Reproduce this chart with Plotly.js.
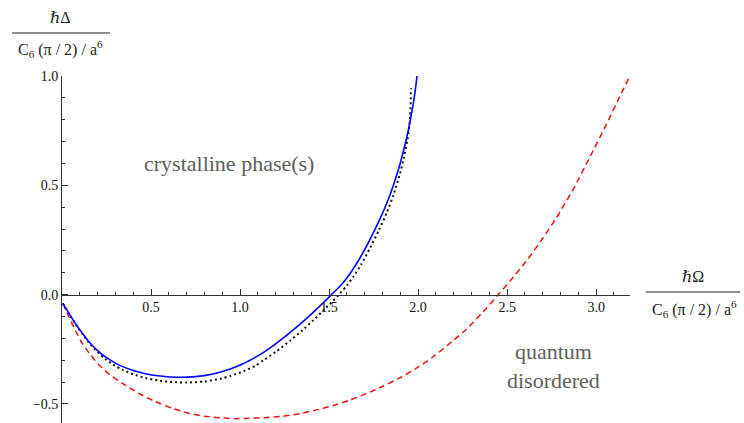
<!DOCTYPE html>
<html>
<head>
<meta charset="utf-8">
<script src="https://cdn.plot.ly/plotly-3.0.1.min.js"></script>
<style>
  html, body { margin: 0; padding: 0; background: #fff; }
  #phasePlot { width: 744px; height: 423px; }
</style>
</head>
<body>
<div id="phasePlot"></div>
<script>
// values (x = hbar*Omega, y = hbar*Delta, both in units of C6 (pi/2)/a^6)
const blueX = [0.005, 0.04, 0.076, 0.115, 0.15, 0.2, 0.244, 0.3, 0.338, 0.4, 0.468, 0.55, 0.655, 0.75, 0.842, 0.945, 1.02, 1.085, 1.132, 1.2, 1.282, 1.35, 1.412, 1.47, 1.518, 1.57, 1.618, 1.67, 1.73, 1.78, 1.824, 1.86, 1.898, 1.92, 1.945, 1.96, 1.973, 1.984, 1.994];
const blueY = [-0.04, -0.087, -0.133, -0.178, -0.214, -0.256, -0.285, -0.313, -0.328, -0.347, -0.362, -0.372, -0.378, -0.375, -0.364, -0.34, -0.315, -0.287, -0.264, -0.225, -0.173, -0.126, -0.08, -0.035, 0.004, 0.046, 0.097, 0.163, 0.253, 0.336, 0.418, 0.497, 0.596, 0.665, 0.752, 0.815, 0.875, 0.935, 1.0];

const blackX = [0.005, 0.04, 0.076, 0.115, 0.15, 0.2, 0.244, 0.3, 0.338, 0.4, 0.468, 0.55, 0.62, 0.7, 0.8, 0.898, 0.945, 1.02, 1.085, 1.132, 1.2, 1.282, 1.35, 1.412, 1.47, 1.52, 1.562, 1.6, 1.637, 1.68, 1.73, 1.78, 1.824, 1.86, 1.898, 1.92, 1.939, 1.95, 1.955, 1.958, 1.96];
const blackY = [-0.04, -0.088, -0.134, -0.18, -0.218, -0.263, -0.295, -0.326, -0.343, -0.364, -0.381, -0.394, -0.4, -0.402, -0.397, -0.383, -0.372, -0.35, -0.325, -0.3, -0.262, -0.21, -0.163, -0.117, -0.07, -0.03, 0.006, 0.042, 0.083, 0.138, 0.213, 0.295, 0.375, 0.452, 0.553, 0.625, 0.705, 0.77, 0.82, 0.87, 0.944];

const redX = [0.005, 0.038, 0.076, 0.113, 0.16, 0.207, 0.27, 0.338, 0.43, 0.524, 0.62, 0.711, 0.8, 0.898, 0.97, 1.04, 1.132, 1.24, 1.338, 1.43, 1.524, 1.62, 1.712, 1.8, 1.898, 1.998, 2.085, 2.2, 2.273, 2.385, 2.45, 2.52, 2.59, 2.65, 2.702, 2.777, 2.871, 2.964, 3.058, 3.132, 3.188];
const redY = [-0.04, -0.1, -0.165, -0.222, -0.275, -0.321, -0.367, -0.405, -0.451, -0.489, -0.52, -0.542, -0.556, -0.564, -0.567, -0.566, -0.563, -0.556, -0.544, -0.527, -0.507, -0.481, -0.452, -0.42, -0.38, -0.333, -0.284, -0.208, -0.157, -0.061, 0.0, 0.066, 0.136, 0.2, 0.26, 0.352, 0.482, 0.628, 0.78, 0.905, 0.998];

const xTickVals = [0.5, 1.0, 1.5, 2.0, 2.5, 3.0];
const xTickText = ['0.5', '1.0', '1.5', '2.0', '2.5', '3.0'];
const yTickVals = [-0.5, 0.0, 0.5, 1.0];
const yTickText = ['\u22120.5', '0.0', '0.5', '1.0'];

const axisLabelDen = 'C<sub>6</sub> (\u03c0 / 2) / a<sup>6</sup>';

const serif = 'Liberation Serif, DejaVu Serif, serif';
const xRange = [0, 3.19];
const yRange = [-0.587, 1.0];

const traces = [
    {
        x: redX, y: redY, mode: 'lines', type: 'scatter',
        line: { color: '#ee1111', width: 1.5, dash: '6px,4px', shape: 'spline', smoothing: 0.6 }
    },
    {
        x: blackX, y: blackY, mode: 'lines', type: 'scatter',
        line: { color: '#111', width: 2, dash: '2px,3px', shape: 'spline', smoothing: 0.6 }
    },
    {
        x: blueX, y: blueY, mode: 'lines', type: 'scatter',
        line: { color: '#0000ff', width: 1.6, shape: 'spline', smoothing: 0.6 }
    }
];

const tickFont = { family: serif, size: 14, color: '#111' };
const labelFont = { family: serif, size: 16, color: '#222' };
const noteFont = { family: serif, size: 22, color: '#5e5e5e' };

function label(x, y, text, font) {
    return { xref: 'paper', yref: 'paper', x: x, y: y, xanchor: 'center', yanchor: 'middle', text: text, showarrow: false, font: font };
}

const layout = {
    width: 744,
    height: 423,
    margin: { l: 62, r: 114, t: 76, b: 0 },
    paper_bgcolor: '#fff',
    plot_bgcolor: '#fff',
    showlegend: false,
    xaxis: {
        range: xRange,
        anchor: 'free',
        // put the x axis line on y = 0
        position: (0 - yRange[0]) / (yRange[1] - yRange[0]),
        showline: true, linecolor: '#333', linewidth: 1,
        showgrid: false, zeroline: false,
        ticks: 'inside', ticklen: 6, tickcolor: '#333',
        tickmode: 'array', tickvals: xTickVals, ticktext: xTickText,
        minor: { ticks: 'inside', ticklen: 3, tickcolor: '#333', dtick: 0.1, tick0: 0, showgrid: false },
        tickfont: tickFont
    },
    yaxis: {
        range: yRange,
        showline: true, linecolor: '#333', linewidth: 1,
        showgrid: false, zeroline: false,
        ticks: 'inside', ticklen: 6, tickcolor: '#333',
        tickmode: 'array', tickvals: yTickVals, ticktext: yTickText,
        minor: { ticks: 'inside', ticklen: 3, tickcolor: '#333', dtick: 0.1, tick0: 0, showgrid: false },
        tickfont: tickFont
    },
    shapes: [
        // fraction bars of the two axis labels
        { type: 'line', xref: 'paper', yref: 'paper', x0: -0.088, x1: 0.0845, y0: 1.124, y1: 1.124, line: { color: '#222', width: 1 } },
        { type: 'line', xref: 'paper', yref: 'paper', x0: 1.028, x1: 1.194, y0: 0.3775, y1: 0.3775, line: { color: '#222', width: 1 } }
    ],
    annotations: [
        label(-0.002, 1.17, '\u210f\u0394', labelFont),
        label(-0.002, 1.078, axisLabelDen, labelFont),
        label(1.111, 0.421, '\u210f\u03a9', labelFont),
        label(1.113, 0.328, axisLabelDen, labelFont),
        { xref: 'x', yref: 'y', x: 0.938, y: 0.598, text: 'crystalline phase(s)', showarrow: false, font: noteFont },
        { xref: 'x', yref: 'y', x: 2.763, y: -0.326, text: 'quantum<br>disordered', showarrow: false, font: noteFont }
    ]
};

Plotly.newPlot('phasePlot', traces, layout, { staticPlot: true, displayModeBar: false });
</script>
</body>
</html>
